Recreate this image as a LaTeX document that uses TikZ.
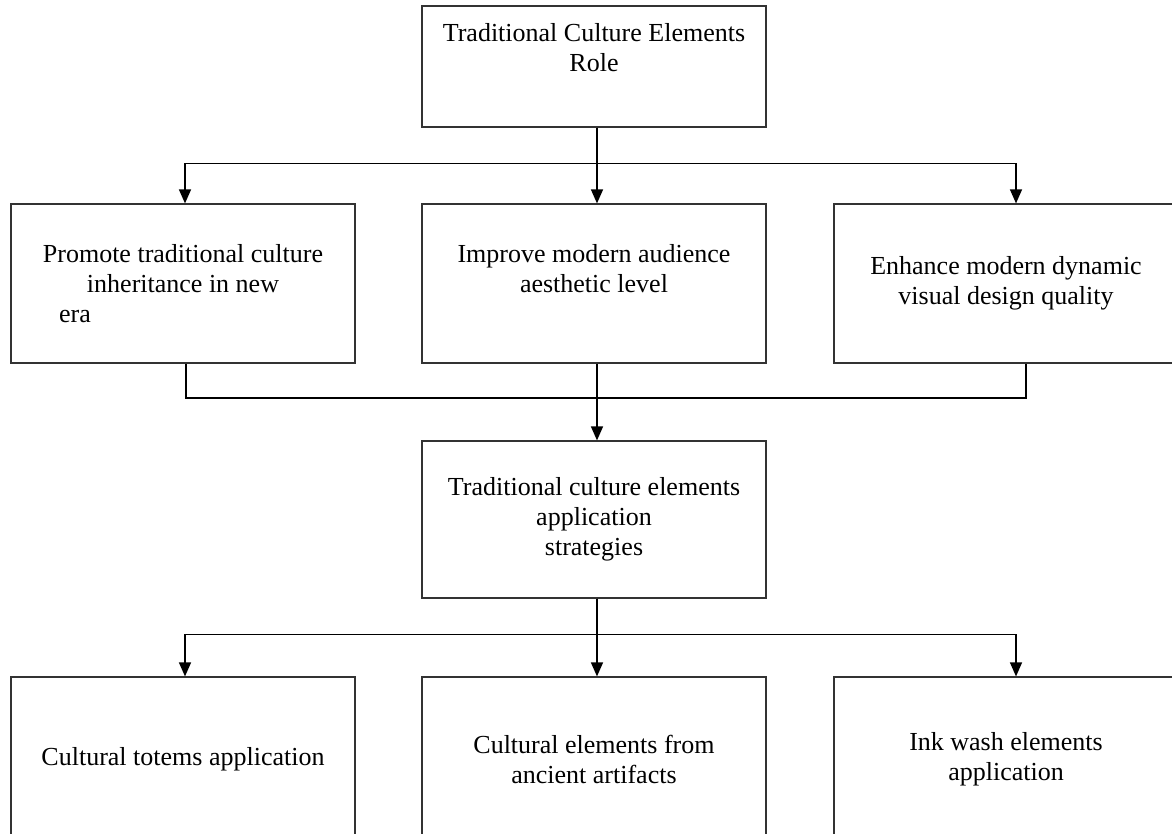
\documentclass[tikz,border=0pt]{standalone}
\usepackage{fontspec}
\setmainfont{Liberation Serif}
\usetikzlibrary{positioning,arrows.meta,calc}

\begin{document}
\begin{tikzpicture}[x=0.5pt,y=-0.5pt,
  box/.style={draw=black!80, line width=0.6pt, minimum width=172pt, align=center, inner sep=0pt, font=\fontsize{13}{15}\selectfont},
  link/.style={line width=0.7pt},
  arr/.style={link, -{Triangle[length=7pt,width=6pt]}}]
\useasboundingbox (0,0) rectangle (1172,834);

% Top box
\node[box, minimum height=60.5pt] (role) at (594,66.5) {Traditional Culture Elements\\Role\\[4pt]\mbox{}};

% Roles
\node[box, minimum height=79.5pt] (inherit) at (183,283.5) {Promote traditional culture\\inheritance in new\\era\hspace*{108pt}};
\node[box, minimum height=79.5pt] (aesthetic) at (594,283.5) {Improve modern audience\\aesthetic level\\\mbox{}};
\node[box, minimum height=79.5pt] (quality) at (1006,283.5) {Enhance modern dynamic\\visual design quality};

% Strategies
\node[box, minimum height=78.5pt] (strategy) at (594,519.5) {Traditional culture elements\\application\\strategies};

% Applications
\node[box, minimum height=82.5pt] (totem) at (183,759.5) {Cultural totems application};
\node[box, minimum height=82.5pt] (artifact) at (594,759.5) {Cultural elements from\\ancient artifacts};
\node[box, minimum height=82.5pt] (ink) at (1006,759.5) {Ink wash elements\\application};

% Fan out: role -> roles
\draw[arr] ([xshift=1.5pt]role.south) -- ([xshift=1.5pt]aesthetic.north);
\draw[arr] ([xshift=1.5pt]role.south) -- ++(0,36) -| ([xshift=1pt]inherit.north);
\draw[arr] ([xshift=1.5pt]role.south) -- ++(0,36) -| ([xshift=5pt]quality.north);

% Merge: roles -> strategies
\coordinate (bus2) at (597,398);
\draw[link] ([xshift=1.5pt]inherit.south) |- (bus2);
\draw[link] ([xshift=10pt]quality.south) |- (bus2);
\draw[arr] ([xshift=1.5pt]aesthetic.south) -- ([xshift=1.5pt]strategy.north);

% Fan out: strategies -> applications
\draw[arr] ([xshift=1.5pt]strategy.south) -- ([xshift=1.5pt]artifact.north);
\draw[arr] ([xshift=1.5pt]strategy.south) -- ++(0,36) -| ([xshift=1pt]totem.north);
\draw[arr] ([xshift=1.5pt]strategy.south) -- ++(0,36) -| ([xshift=5pt]ink.north);
\end{tikzpicture}
\end{document}
